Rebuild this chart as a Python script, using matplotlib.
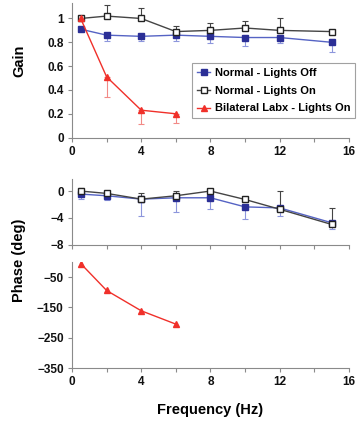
import matplotlib
matplotlib.use("Agg")
from matplotlib import pyplot as plt

plt.rcParams['font.family'] = ['Liberation Sans', 'DejaVu Sans']
plt.rcParams['font.weight'] = 'bold'

# data
freq = [0.5, 2, 4, 6, 8, 10, 12, 15]
freq_labx = [0.5, 2, 4, 6]

gain_off = [0.91, 0.86, 0.85, 0.86, 0.85, 0.84, 0.84, 0.80]
gain_off_lo = [0, 0.05, 0.04, 0.05, 0.06, 0.07, 0.05, 0.085]
gain_on = [1.0, 1.02, 1.0, 0.89, 0.90, 0.92, 0.90, 0.89]
gain_on_hi = [0, 0.09, 0.09, 0.05, 0.06, 0.06, 0.1, 0]
gain_labx = [1.0, 0.51, 0.23, 0.20]
gain_labx_lo = [0, 0.17, 0.12, 0.08]
gain_labx_hi = [0.03, 0, 0, 0]

phase_off = [-0.45, -0.7, -1.2, -1.0, -1.0, -2.35, -2.5, -4.7]
phase_off_lo = [0.75, 0.65, 2.5, 2.1, 1.6, 1.85, 1.2, 0.9]
phase_on = [0.0, -0.35, -1.2, -0.7, 0.0, -1.25, -2.7, -4.95]
phase_on_hi = [0.5, 0.15, 0.85, 0.75, 0.2, 0.4, 2.7, 2.45]
phase_labx = [-5, -94, -161, -205]

labels = ['Normal - Lights Off', 'Normal - Lights On', 'Bilateral Labx - Lights On']

blue = '#2b2f96'
blue_line = '#5563c4'
blue_err = '#8d96dc'
red = '#f0302a'
grey = '#8a8a8a'

fig = plt.figure(figsize=(3.6, 4.26), dpi=100)
ax1 = fig.add_axes([0.2, 0.677, 0.769, 0.316])
ax2 = fig.add_axes([0.2, 0.425, 0.769, 0.155])
ax3 = fig.add_axes([0.2, 0.136, 0.769, 0.249])

zero = [0] * len(freq)


def style(ax):
    for s in ['top', 'right']:
        ax.spines[s].set_visible(False)
    for s in ['left', 'bottom']:
        ax.spines[s].set_color(grey)
        ax.spines[s].set_linewidth(0.8)
    ax.tick_params(colors=grey, labelcolor='#111111', labelsize=8.5, length=3, width=0.8, pad=3)
    ax.set_xlim(0, 16)
    ax.set_xticks(range(0, 17, 2))
    ax.set_xticklabels(['0', '', '4', '', '8', '', '12', '', '16'])


# gain
e_off = ax1.errorbar(freq, gain_off, yerr=[gain_off_lo, zero], color=blue_line, ecolor=blue_err,
                     elinewidth=0.8, capsize=2, capthick=0.8, lw=1, marker='s', ms=4.5,
                     mfc=blue, mec=blue)
e_on = ax1.errorbar(freq, gain_on, yerr=[zero, gain_on_hi], color='#444444', ecolor='#444444',
                    elinewidth=0.8, capsize=2, capthick=0.8, lw=1, marker='s', ms=4.5,
                    mfc='white', mec='#222222')
e_labx = ax1.errorbar(freq_labx, gain_labx, yerr=[gain_labx_lo, gain_labx_hi], color=red,
                      ecolor='#f28a86', elinewidth=0.8, capsize=2, capthick=0.8, lw=1,
                      marker='^', ms=5, mfc=red, mec=red)
style(ax1)
ax1.set_ylim(0, 1.13)
ax1.set_yticks([0, 0.2, 0.4, 0.6, 0.8, 1])
ax1.set_yticklabels(['0', '0.2', '0.4', '0.6', '0.8', '1'])
# legend shows only line + marker, no error bars
handles = [e_off[0], e_on[0], e_labx[0]]
leg = ax1.legend(handles, labels, loc='upper left', bbox_to_anchor=(0.433, 0.555),
                 fontsize=8, frameon=True, fancybox=False, edgecolor=grey,
                 handlelength=1.2, handletextpad=0.4, borderpad=0.45, labelspacing=0.7,
                 borderaxespad=0)
leg.get_frame().set_linewidth(0.8)

# phase, upper part
ax2.errorbar(freq, phase_off, yerr=[phase_off_lo, zero], color=blue_line, ecolor=blue_err,
             elinewidth=0.8, capsize=2.5, capthick=0.8, lw=1, marker='s', ms=4.5,
             mfc=blue, mec=blue)
ax2.errorbar(freq, phase_on, yerr=[zero, phase_on_hi], color='#444444', ecolor='#444444',
             elinewidth=0.8, capsize=2.5, capthick=0.8, lw=1, marker='s', ms=4.5,
             mfc='white', mec='#222222')
style(ax2)
ax2.set_ylim(-8, 1.8)
ax2.set_yticks([0, -4, -8])
ax2.set_xticklabels([])

# phase, lower part
ax3.plot(freq_labx, phase_labx, color=red, lw=1, marker='^', ms=5, mfc=red, mec=red)
style(ax3)
ax3.set_ylim(-350, 0)
ax3.set_yticks([-50, -150, -250, -350])

fig.text(0.055, 1 - 61 / 426, 'Gain', rotation=90, ha='center', va='center', fontsize=10.5)
fig.text(0.053, 1 - 260 / 426, 'Phase (deg)', rotation=90, ha='center', va='center', fontsize=10.5)
fig.text(0.584, 1 - 410 / 426, 'Frequency (Hz)', ha='center', va='center', fontsize=10.5)

fig.savefig('out.png', dpi=100)
